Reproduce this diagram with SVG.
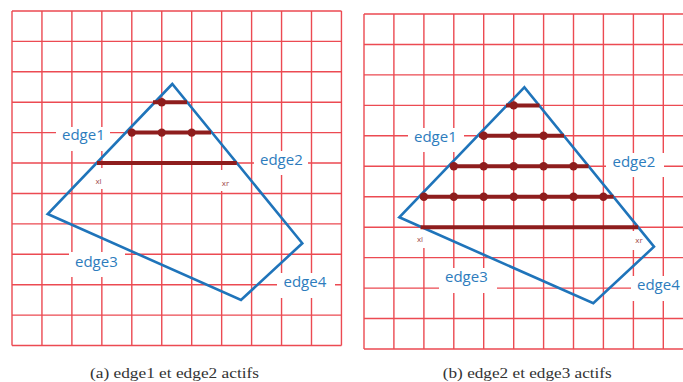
<svg xmlns="http://www.w3.org/2000/svg" width="683" height="382" viewBox="0 0 683 382">
<style>
.grid{fill:none;stroke:#ec4a52;stroke-width:1.4}
.bg{fill:#ffffff}
.poly{fill:none;stroke:#1f74ba;stroke-width:2.6;stroke-linejoin:miter}
.scan{stroke:#8e1d1d;stroke-width:4;stroke-linecap:butt}
.dot{fill:#8e1d1d}
.lbl{font-family:"Open Sans","DejaVu Sans",sans-serif;font-size:15px;fill:#2d7cbd}
.sm{font-family:"Open Sans","DejaVu Sans",sans-serif;font-size:8px;fill:#a14a4a;text-anchor:middle}
.cap{font-family:"Liberation Serif","DejaVu Serif",serif;font-size:14px;fill:#333333;text-anchor:middle}
</style>
<rect width="683" height="382" fill="#ffffff"/>
<g id="panel-a">
<path class="grid" d="M12 11V345.5M41.95 11V345.5M71.9 11V345.5M101.85 11V345.5M131.8 11V345.5M161.75 11V345.5M191.7 11V345.5M221.65 11V345.5M251.6 11V345.5M281.55 11V345.5M311.5 11V345.5M341.45 11V345.5M12 11H341.45M12 41.4H341.45M12 71.8H341.45M12 102.2H341.45M12 132.6H341.45M12 163.05H341.45M12 193.5H341.45M12 223.9H341.45M12 254.3H341.45M12 284.7H341.45M12 315.1H341.45M12 345.5H341.45"/>
<g id="a-label-bg">
<rect class="bg" x="56" y="127" width="54" height="24"/>
<rect class="bg" x="254" y="151" width="54" height="24"/>
<rect class="bg" x="69" y="252" width="56" height="25"/>
<rect class="bg" x="277" y="273" width="58" height="25"/>
<rect class="bg" x="92" y="168" width="13" height="21"/>
<rect class="bg" x="218" y="170" width="14" height="21"/>
</g>
<polygon class="poly" points="172.3,84 47.7,214 241,300 302.3,243.3"/>
<g id="a-scanlines">
<line class="scan" x1="153" y1="102.2" x2="187" y2="102.2"/>
<line class="scan" x1="130" y1="132.6" x2="211" y2="132.6"/>
<line class="scan" x1="97" y1="163.05" x2="236.8" y2="163.05"/>
<circle class="dot" cx="161.75" cy="102.2" r="4.2"/>
<circle class="dot" cx="131.8" cy="132.6" r="4.2"/>
<circle class="dot" cx="161.75" cy="132.6" r="4.2"/>
<circle class="dot" cx="191.7" cy="132.6" r="4.2"/>
</g>
<text class="lbl" x="62" y="140">edge1</text>
<text class="lbl" x="260" y="165">edge2</text>
<text class="lbl" x="75" y="266.5">edge3</text>
<text class="lbl" x="283.5" y="287">edge4</text>
<text class="sm" x="98.5" y="183.5">xl</text>
<text class="sm" x="225.5" y="186">xr</text>
<text class="cap" x="174.5" y="378" textLength="169" lengthAdjust="spacingAndGlyphs">(a) edge1 et edge2 actifs</text>
</g>
<g id="panel-b">
<path class="grid" d="M364 14V349M393.9 14V349M423.9 14V349M453.8 14V349M483.7 14V349M513.7 14V349M543.6 14V349M573.5 14V349M603.4 14V349M633.4 14V349M663.3 14V349M364 14H690M364 44.5H690M364 74.9H690M364 105.4H690M364 135.8H690M364 166.3H690M364 196.7H690M364 227.2H690M364 257.6H690M364 288.1H690M364 318.5H690M364 349H690"/>
<g id="b-label-bg">
<rect class="bg" x="408" y="128" width="56" height="24"/>
<rect class="bg" x="606" y="153" width="58" height="24"/>
<rect class="bg" x="439" y="268" width="58" height="25"/>
<rect class="bg" x="631" y="276" width="54" height="25"/>
<rect class="bg" x="413" y="229" width="14" height="19"/>
<rect class="bg" x="632" y="231" width="14" height="19"/>
</g>
<polygon class="poly" points="524.3,87.3 399.3,217.3 593.3,303.3 654,246.7"/>
<g id="b-scanlines">
<line class="scan" x1="506" y1="105.4" x2="539.5" y2="105.4"/>
<line class="scan" x1="479" y1="135.8" x2="564" y2="135.8"/>
<line class="scan" x1="450" y1="166.3" x2="588.5" y2="166.3"/>
<line class="scan" x1="420" y1="196.7" x2="613.5" y2="196.7"/>
<line class="scan" x1="420.5" y1="227.2" x2="638.2" y2="227.2"/>
<circle class="dot" cx="513.7" cy="105.4" r="4.2"/>
<circle class="dot" cx="483.7" cy="135.8" r="4.2"/>
<circle class="dot" cx="513.7" cy="135.8" r="4.2"/>
<circle class="dot" cx="543.6" cy="135.8" r="4.2"/>
<circle class="dot" cx="453.8" cy="166.3" r="4.2"/>
<circle class="dot" cx="483.7" cy="166.3" r="4.2"/>
<circle class="dot" cx="513.7" cy="166.3" r="4.2"/>
<circle class="dot" cx="543.6" cy="166.3" r="4.2"/>
<circle class="dot" cx="573.5" cy="166.3" r="4.2"/>
<circle class="dot" cx="423.9" cy="196.7" r="4.2"/>
<circle class="dot" cx="453.8" cy="196.7" r="4.2"/>
<circle class="dot" cx="483.7" cy="196.7" r="4.2"/>
<circle class="dot" cx="513.7" cy="196.7" r="4.2"/>
<circle class="dot" cx="543.6" cy="196.7" r="4.2"/>
<circle class="dot" cx="573.5" cy="196.7" r="4.2"/>
<circle class="dot" cx="603.4" cy="196.7" r="4.2"/>
</g>
<text class="lbl" x="414" y="141.5">edge1</text>
<text class="lbl" x="612.5" y="167">edge2</text>
<text class="lbl" x="445" y="281.5">edge3</text>
<text class="lbl" x="637" y="290">edge4</text>
<text class="sm" x="420" y="242">xl</text>
<text class="sm" x="639" y="243">xr</text>
<text class="cap" x="527.3" y="378" textLength="169" lengthAdjust="spacingAndGlyphs">(b) edge2 et edge3 actifs</text>
</g>
</svg>
